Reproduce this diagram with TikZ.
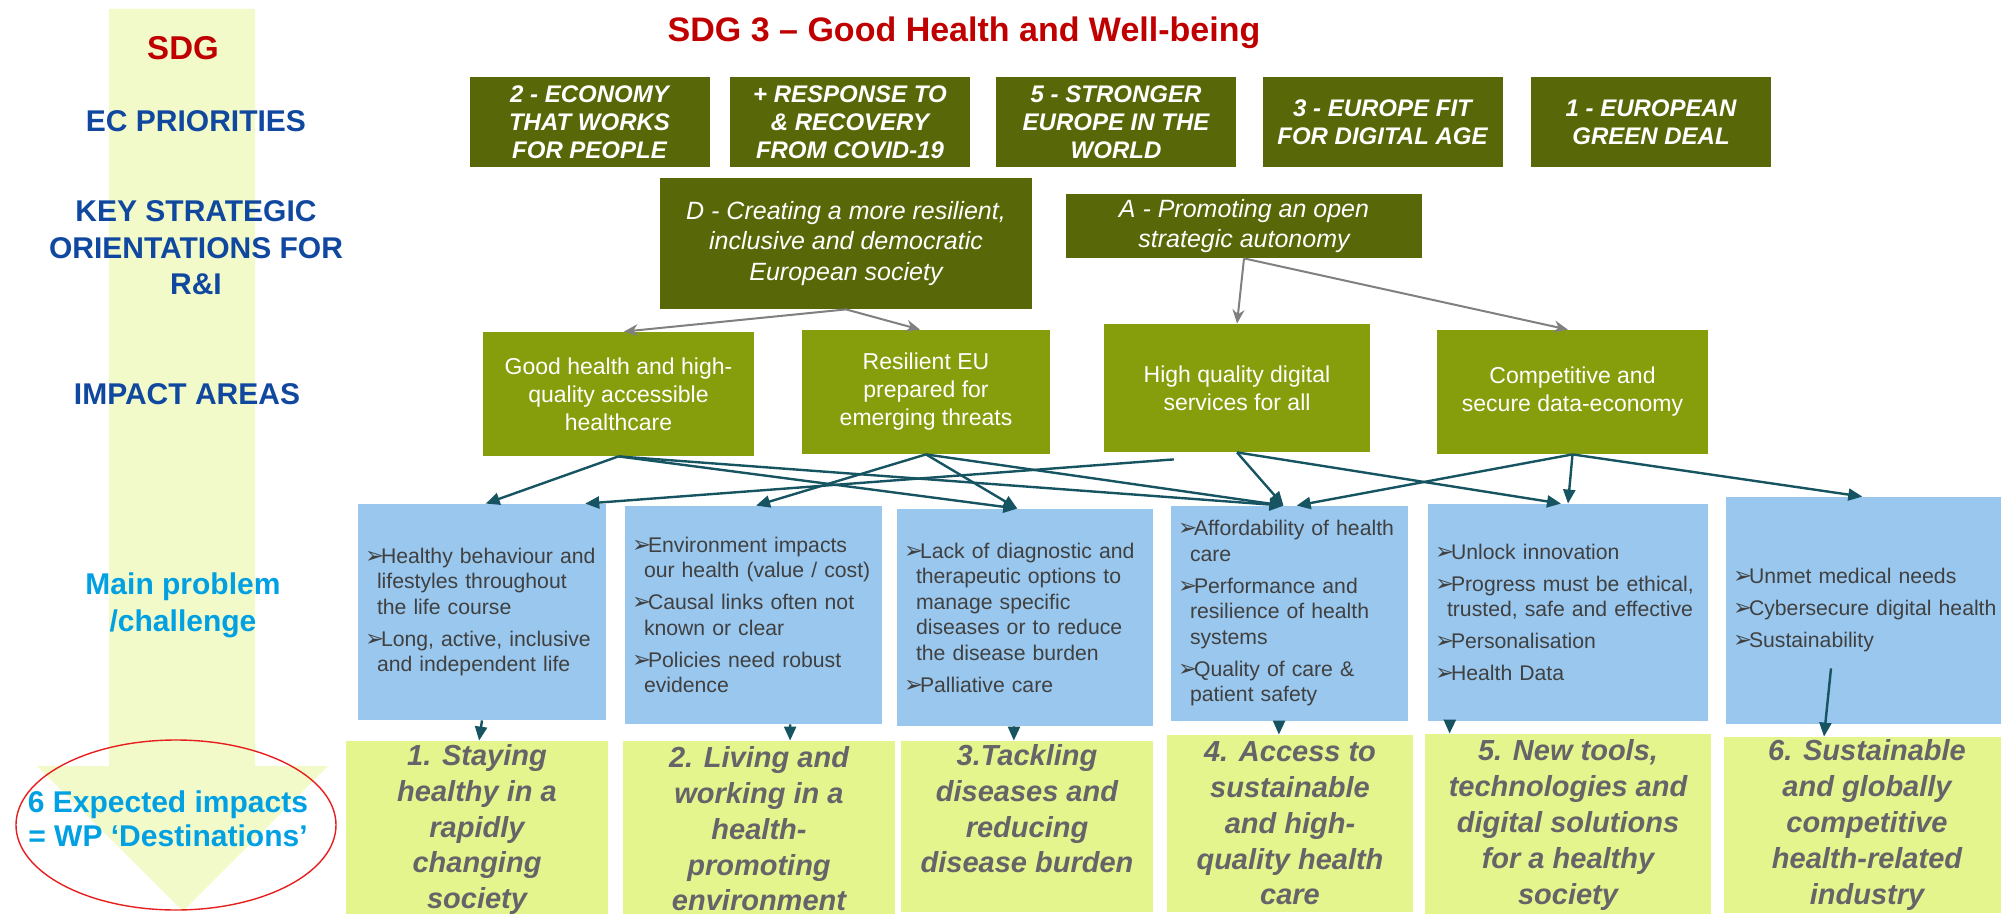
\documentclass[tikz,border=0pt]{standalone}
\usepackage{fontspec}
\setmainfont{Liberation Sans}
\newfontfamily\symfont{DejaVu Sans}
\usetikzlibrary{arrows.meta,calc}

\definecolor{ecolive}{RGB}{88,103,8}
\definecolor{iagreen}{RGB}{135,158,12}
\definecolor{probblue}{RGB}{153,199,238}
\definecolor{destyel}{RGB}{229,245,142}
\definecolor{bandyel}{RGB}{242,250,202}
\definecolor{arrteal}{RGB}{22,84,98}
\definecolor{arrgray}{RGB}{128,128,128}
\definecolor{sdgred}{RGB}{192,0,0}
\definecolor{rowblue}{RGB}{16,72,160}
\definecolor{mpblue}{RGB}{0,160,226}
\definecolor{probtext}{RGB}{64,64,64}
\definecolor{desttext}{RGB}{102,100,104}
\definecolor{ellred}{RGB}{230,30,30}

\newcommand{\pbul}{\makebox[8pt][l]{\symfont\fontsize{11.5pt}{10pt}\selectfont ➢}}
\newcommand{\pind}{\hspace*{6pt}}

\tikzset{
  ecbox/.style={fill=ecolive, text=white, align=center, inner sep=0pt, minimum width=120pt, minimum height=45pt, font=\fontsize{12pt}{14pt}\selectfont\bfseries\itshape},
  ksobox/.style={fill=ecolive, text=white, align=center, inner sep=0pt, font=\fontsize{12.5pt}{15.25pt}\selectfont\itshape},
  iabox/.style={fill=iagreen, text=white, align=center, inner sep=0pt, font=\fontsize{11.5pt}{14pt}\selectfont},
  probbox/.style={fill=probblue, text=probtext, align=left, inner xsep=3.5pt, inner ysep=0pt, text width=#1, font=\fontsize{10.6pt}{12.75pt}\selectfont},
  destbox/.style={fill=destyel, text=desttext, align=center, inner sep=0pt, font=\fontsize{14.5pt}{17.9pt}\selectfont\bfseries\itshape},
  rowlabel/.style={align=center, text=rowblue, font=\fontsize{15pt}{18.25pt}\selectfont\bfseries},
  garrow/.style={draw=arrgray, line width=1pt, -{Stealth[length=7pt,width=6pt]}},
  tarrow/.style={draw=arrteal, line width=1.2pt, -{Triangle[length=7pt,width=6pt]}}
}

\begin{document}
\begin{tikzpicture}[x=0.5pt,y=0.5pt,yscale=-1,xscale=1]
\useasboundingbox (0,0) rectangle (2001,914);

%Shape: Down Arrow (left band)
\fill [bandyel] (109,9) -- (255,9) -- (255,766) -- (328,766) -- (183,911) -- (37,766) -- (109,766) -- cycle;

%Shape: Ellipse
\draw [ellred, line width=0.7pt] (176,825) ellipse [x radius=160, y radius=85];

% Text Node
\node [rowlabel, text=sdgred, font=\fontsize{16.5pt}{19pt}\selectfont\bfseries] (sdg) at (183,48) {SDG};
% Text Node
\node [rowlabel] (ecp) at (196,121) {EC PRIORITIES};
% Text Node
\node [rowlabel] (kso) at (196,248) {KEY STRATEGIC\\ORIENTATIONS FOR\\R\&I};
% Text Node
\node [rowlabel] (iar) at (187,394) {IMPACT AREAS};
% Text Node
\node [rowlabel, text=mpblue, font=\fontsize{15pt}{18.5pt}\selectfont\bfseries] (mpc) at (183,605.5) {Main problem\\/challenge};
% Text Node
\node [rowlabel, text=mpblue, font=\fontsize{15pt}{17pt}\selectfont\bfseries] (exp) at (168,819) {6 Expected impacts\\= WP ‘Destinations’};

% Text Node
\node [text=sdgred, font=\fontsize{17pt}{19pt}\selectfont\bfseries] (title) at (964,33) {SDG 3 – Good Health and Well-being};

%Shape: Rectangle (EC priorities)
\node [ecbox] (ec2) at (589.5,122) {2 - ECONOMY\\THAT WORKS\\FOR PEOPLE};
\node [ecbox] (ecc) at (850,122) {+ RESPONSE TO\\\& RECOVERY\\FROM COVID-19};
\node [ecbox] (ec5) at (1116,122) {5 - STRONGER\\EUROPE IN THE\\WORLD};
\node [ecbox] (ec3) at (1382.5,122) {3 - EUROPE FIT\\FOR DIGITAL AGE};
\node [ecbox] (ec1) at (1651,122) {1 - EUROPEAN\\GREEN DEAL};

%Shape: Rectangle (key strategic orientations)
\node [ksobox, minimum width=186pt, minimum height=65.5pt] (kd) at (846,243.5) {D - Creating a more resilient,\\inclusive and democratic\\European society};
\node [ksobox, minimum width=178pt, minimum height=32pt] (ka) at (1244,226) {A - Promoting an open\\strategic autonomy};

%Shape: Rectangle (impact areas)
\node [iabox, minimum width=135.5pt, minimum height=62pt] (ia1) at (618.5,394) {Good health and high-\\quality accessible\\healthcare};
\node [iabox, minimum width=124pt, minimum height=62pt] (ia2) at (926,392) {Resilient EU\\prepared for\\emerging threats};
\node [iabox, minimum width=133pt, minimum height=64pt] (ia3) at (1237,388) {High quality digital\\services for all};
\node [iabox, minimum width=135.5pt, minimum height=62pt] (ia4) at (1572.5,392) {Competitive and\\secure data-economy};

%Shape: Rectangle (main problems)
\node [probbox=117pt, minimum height=108pt] (p1) at (482,612) {\pbul Healthy behaviour and\\\pind lifestyles throughout\\\pind the life course\\[3.25pt]\pbul Long, active, inclusive\\\pind and independent life};
\node [probbox=121.5pt, minimum height=109pt] (p2) at (753.5,615) {\pbul Environment impacts\\\pind our health (value / cost)\\[3.25pt]\pbul Causal links often not\\\pind known or clear\\[3.25pt]\pbul Policies need robust\\\pind evidence};
\node [probbox=121pt, minimum height=108.5pt] (p3) at (1025,617.5) {\pbul Lack of diagnostic and\\\pind therapeutic options to\\\pind manage specific\\\pind diseases or to reduce\\\pind the disease burden\\[3.25pt]\pbul Palliative care};
\node [probbox=111.5pt, minimum height=107.5pt] (p4) at (1289.5,613.5) {\pbul Affordability of health\\\pind care\\[3.25pt]\pbul Performance and\\\pind resilience of health\\\pind systems\\[3.25pt]\pbul Quality of care \&\\\pind patient safety};
\node [probbox=133pt, minimum height=108.5pt] (p5) at (1568,612.5) {\pbul Unlock innovation\\[3.25pt]\pbul Progress must be ethical,\\\pind trusted, safe and effective\\[3.25pt]\pbul Personalisation\\[3.25pt]\pbul Health Data};
\node [probbox=135pt, minimum height=113.5pt] (p6) at (1868,610.5) {\pbul Unmet medical needs\\[3.25pt]\pbul Cybersecure digital health\\[3.25pt]\pbul Sustainability};

%Shape: Rectangle (destinations)
\node [destbox, minimum width=131pt, minimum height=88.5pt] (d1) at (477,829.5) {1. Staying\\healthy in a\\rapidly\\changing\\society};
\node [destbox, minimum width=136pt, minimum height=88pt] (d2) at (759,829) {2. Living and\\working in a\\health-\\promoting\\environment};
\node [destbox, minimum width=126pt, minimum height=85.5pt] (d3) at (1027,826.5) {3.Tackling\\diseases and\\reducing\\disease burden\\\mbox{}};
\node [destbox, minimum width=123pt, minimum height=88.5pt] (d4) at (1290,823.5) {4. Access to\\sustainable\\and high-\\quality health\\care};
\node [destbox, minimum width=143pt, minimum height=91pt] (d5) at (1568,825) {5. New tools,\\technologies and\\digital solutions\\for a healthy\\society};
\node [destbox, minimum width=143pt, minimum height=88pt] (d6) at (1867,825) {6. Sustainable\\and globally\\competitive\\health-related\\industry};

%Straight Lines (orientations to impact areas)
\draw [garrow] (kd.south) -- ($(ia1.north west)!0.52!(ia1.north east)$);
\draw [garrow] (kd.south) -- ($(ia2.north west)!0.476!(ia2.north east)$);
\draw [garrow] (ka.south) -- (ia3.north);
\draw [garrow] (ka.south) -- ($(ia4.north west)!0.483!(ia4.north east)$);

%Straight Lines (impact areas to problems)
\draw [tarrow] (ia1.south) -- ($(p1.north west)!0.515!(p1.north east)$);
\draw [tarrow] (ia1.south) -- ($(p3.north west)!0.47!(p3.north east)$);
\draw [tarrow] (ia1.south) -- ($(p4.north west)!0.475!(p4.north east)$);
\draw [tarrow] (ia2.south) -- ($(p2.north west)!0.51!(p2.north east)$);
\draw [tarrow] (ia2.south) -- ($(p3.north west)!0.47!(p3.north east)$);
\draw [tarrow] (ia2.south) -- ($(p4.north west)!0.475!(p4.north east)$);
\draw [tarrow] ($(ia3.south west)!0.263!(ia3.south east)+(0,7)$) -- ($(p1.north west)!0.915!(p1.north east)$);
\draw [tarrow] (ia3.south) -- ($(p4.north west)!0.475!(p4.north east)$);
\draw [tarrow] (ia3.south) -- ($(p5.north west)!0.475!(p5.north east)$);
\draw [tarrow] (ia4.south) -- ($(p4.north west)!0.53!(p4.north east)$);
\draw [tarrow] (ia4.south) -- (p5.north);
\draw [tarrow] (ia4.south) -- ($(p6.north west)!0.48!(p6.north east)$);

%Straight Lines (problems to destinations)
\draw [tarrow] (p1.south) -- ($(d1.north west)!0.508!(d1.north east)$);
\draw [tarrow] ($(p2.south west)!0.642!(p2.south east)$) -- ($(d2.north west)!0.614!(d2.north east)$);
\draw [tarrow] ($(p3.south west)!0.457!(p3.south east)$) -- ($(d3.north west)!0.448!(d3.north east)$);
\draw [tarrow] ($(p4.south west)!0.456!(p4.south east)$) -- ($(d4.north west)!0.455!(d4.north east)$);
\draw [tarrow] ($(p5.south west)!0.079!(p5.south east)$) -- ($(d5.north west)!0.087!(d5.north east)$);
\draw [tarrow] ($(p6.south west)!0.37!(p6.south east)+(0,-56)$) -- ($(d6.north west)!0.35!(d6.north east)$);

\end{tikzpicture}
\end{document}
